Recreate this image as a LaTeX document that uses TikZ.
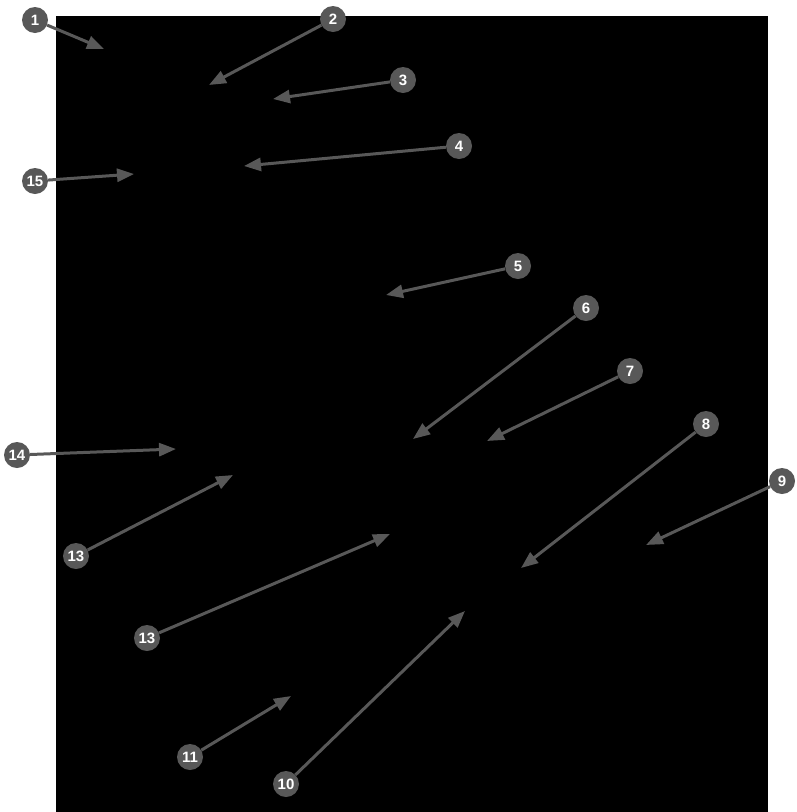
\documentclass[tikz,border=0pt]{standalone}
\usepackage{fontspec}
\setmainfont{Liberation Sans}
\usetikzlibrary{arrows.meta}
\definecolor{markgray}{RGB}{88,88,88}
\tikzstyle{marker} = [circle, fill=markgray, text=white, inner sep=0pt,
minimum size=26pt, font=\fontsize{15}{15}\selectfont\bfseries]
\tikzstyle{pointer} = [draw, -{Triangle[length=17pt,width=13pt]}, color=markgray, line width=3pt]

\begin{document}
\begin{tikzpicture}[x=1pt, y=-1pt]
	\useasboundingbox (0,0) rectangle (796,812);
	\fill[black] (56,16) rectangle (768,812);
	%% Arrow targets
	\coordinate (p1) at (104,49);
	\coordinate (p2) at (209,85);
	\coordinate (p3) at (273,99);
	\coordinate (p4) at (244,166);
	\coordinate (p15) at (134,174);
	\coordinate (p5) at (386,295);
	\coordinate (p6) at (413,439);
	\coordinate (p7) at (487,441);
	\coordinate (p8) at (521,568);
	\coordinate (p9) at (646,545);
	\coordinate (p14) at (176,449);
	\coordinate (p13a) at (233,475);
	\coordinate (p13b) at (390,534);
	\coordinate (p11) at (291,696);
	\coordinate (p10) at (465,611);
	%% Markers
	\node [marker] (m1) at (35,20) {1};
	\node [marker] (m2) at (333,19) {2};
	\node [marker] (m3) at (403,80) {3};
	\node [marker] (m4) at (459,146) {4};
	\node [marker] (m15) at (35,181) {15};
	\node [marker] (m5) at (518,266) {5};
	\node [marker] (m6) at (586,308) {6};
	\node [marker] (m7) at (630,371) {7};
	\node [marker] (m8) at (706,424) {8};
	\node [marker] (m9) at (782,481) {9};
	\node [marker] (m14) at (17,455) {14};
	\node [marker] (m13a) at (76,556) {13};
	\node [marker] (m13b) at (147,638) {13};
	\node [marker] (m11) at (190,757) {11};
	\node [marker] (m10) at (286,784) {10};
	%% Pointers
	\path [pointer] (m1) -- (p1);
	\path [pointer] (m2) -- (p2);
	\path [pointer] (m3) -- (p3);
	\path [pointer] (m4) -- (p4);
	\path [pointer] (m15) -- (p15);
	\path [pointer] (m5) -- (p5);
	\path [pointer] (m6) -- (p6);
	\path [pointer] (m7) -- (p7);
	\path [pointer] (m8) -- (p8);
	\path [pointer] (m9) -- (p9);
	\path [pointer] (m14) -- (p14);
	\path [pointer] (m13a) -- (p13a);
	\path [pointer] (m13b) -- (p13b);
	\path [pointer] (m11) -- (p11);
	\path [pointer] (m10) -- (p10);
\end{tikzpicture}
\end{document}
